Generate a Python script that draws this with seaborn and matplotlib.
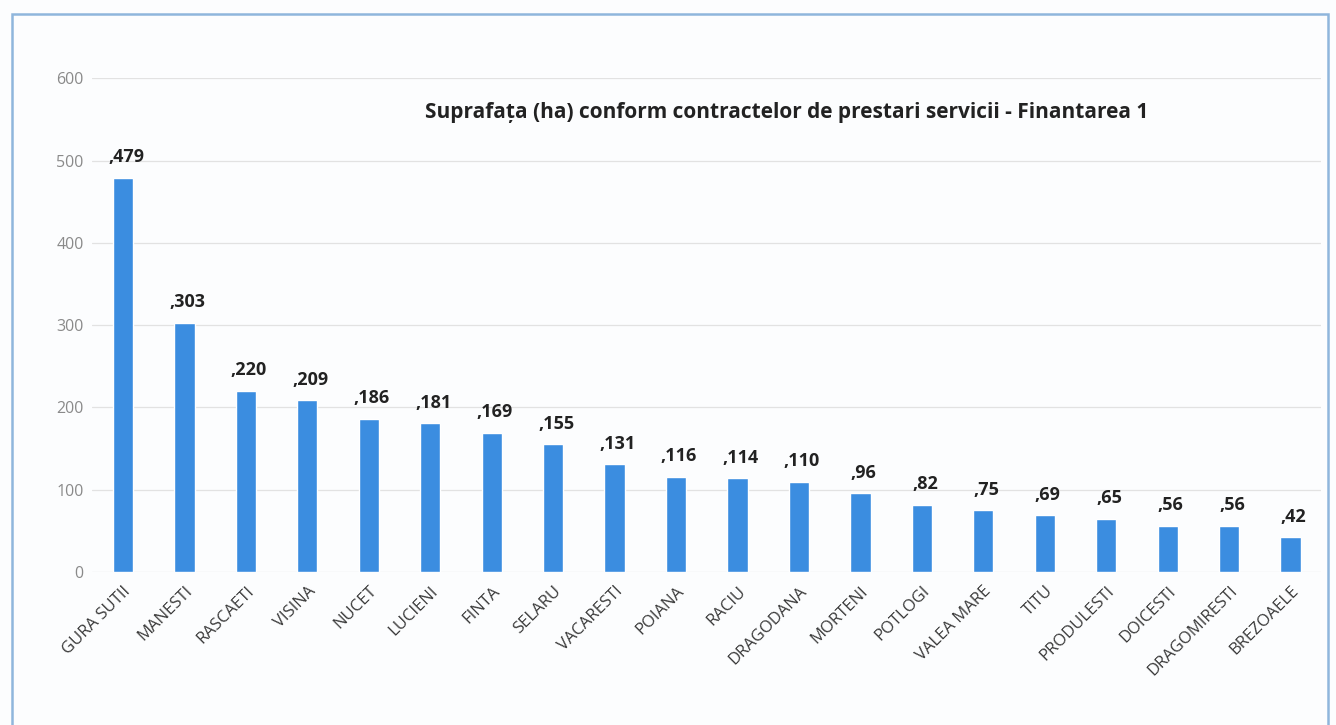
import matplotlib
matplotlib.use('Agg')
import matplotlib.pyplot as plt
from matplotlib.patches import Rectangle
import seaborn as sns
import pandas as pd

localitati = ['GURA SUTII', 'MANESTI', 'RASCAETI', 'VISINA', 'NUCET', 'LUCIENI',
              'FINTA', 'SELARU', 'VACARESTI', 'POIANA', 'RACIU', 'DRAGODANA',
              'MORTENI', 'POTLOGI', 'VALEA MARE', 'TITU', 'PRODULESTI', 'DOICESTI',
              'DRAGOMIRESTI', 'BREZOAELE']
suprafata = [479, 303, 220, 209, 186, 181, 169, 155, 131, 116, 114, 110,
             96, 82, 75, 69, 65, 56, 56, 42]
y_ticks = [0, 100, 200, 300, 400, 500, 600]
titlu = 'Suprafața (ha) conform contractelor de prestari servicii - Finantarea 1'

df = pd.DataFrame({'loc': localitati, 'ha': suprafata})

sns.set_style('white')
plt.rcParams['font.family'] = ['Open Sans', 'DejaVu Sans']

fig = plt.figure(figsize=(13.36, 7.25), dpi=100)
fig.patch.set_facecolor('#fcfdfe')
ax = fig.add_axes([0.069, 0.211, 0.92, 0.681])
ax.set_facecolor('none')

sns.barplot(data=df, x='loc', y='ha', color='#3b8de0', saturation=1,
            width=0.33, ax=ax, zorder=3)

for i, v in enumerate(suprafata):
    ax.text(i + 0.05, v + 14, ',' + str(v), ha='center', va='bottom',
            fontsize=13, fontweight='bold', color='#222222')

ax.set_ylim(0, 600)
ax.set_yticks(y_ticks)
ax.set_yticklabels([str(t) for t in y_ticks], color='#8a8a8a', fontsize=11.5)
ax.tick_params(axis='y', length=0, pad=6)
ax.tick_params(axis='x', length=0, pad=8)
ax.set_xticks(range(len(localitati)))
ax.set_xticklabels(localitati, rotation=45, ha='right', rotation_mode='anchor',
                   fontsize=12, color='#3a3a3a')
ax.grid(axis='y', color='#e2e2e2', linewidth=0.9, zorder=0)
for s in ax.spines.values():
    s.set_visible(False)
ax.set_xlabel('')
ax.set_ylabel('')
ax.set_xlim(-0.5, len(localitati) - 0.5)

ax.text(0.565, 0.93, titlu, transform=ax.transAxes, ha='center', va='center',
        fontsize=15, fontweight='bold', color='#222222')

fig.patches.append(Rectangle((12 / 1336, -0.02), 1316 / 1336, 1 - 14 / 725 + 0.02,
                             transform=fig.transFigure, fill=False,
                             edgecolor='#8fb6dc', linewidth=1.8))

fig.savefig('out.png', dpi=100, facecolor=fig.get_facecolor())
